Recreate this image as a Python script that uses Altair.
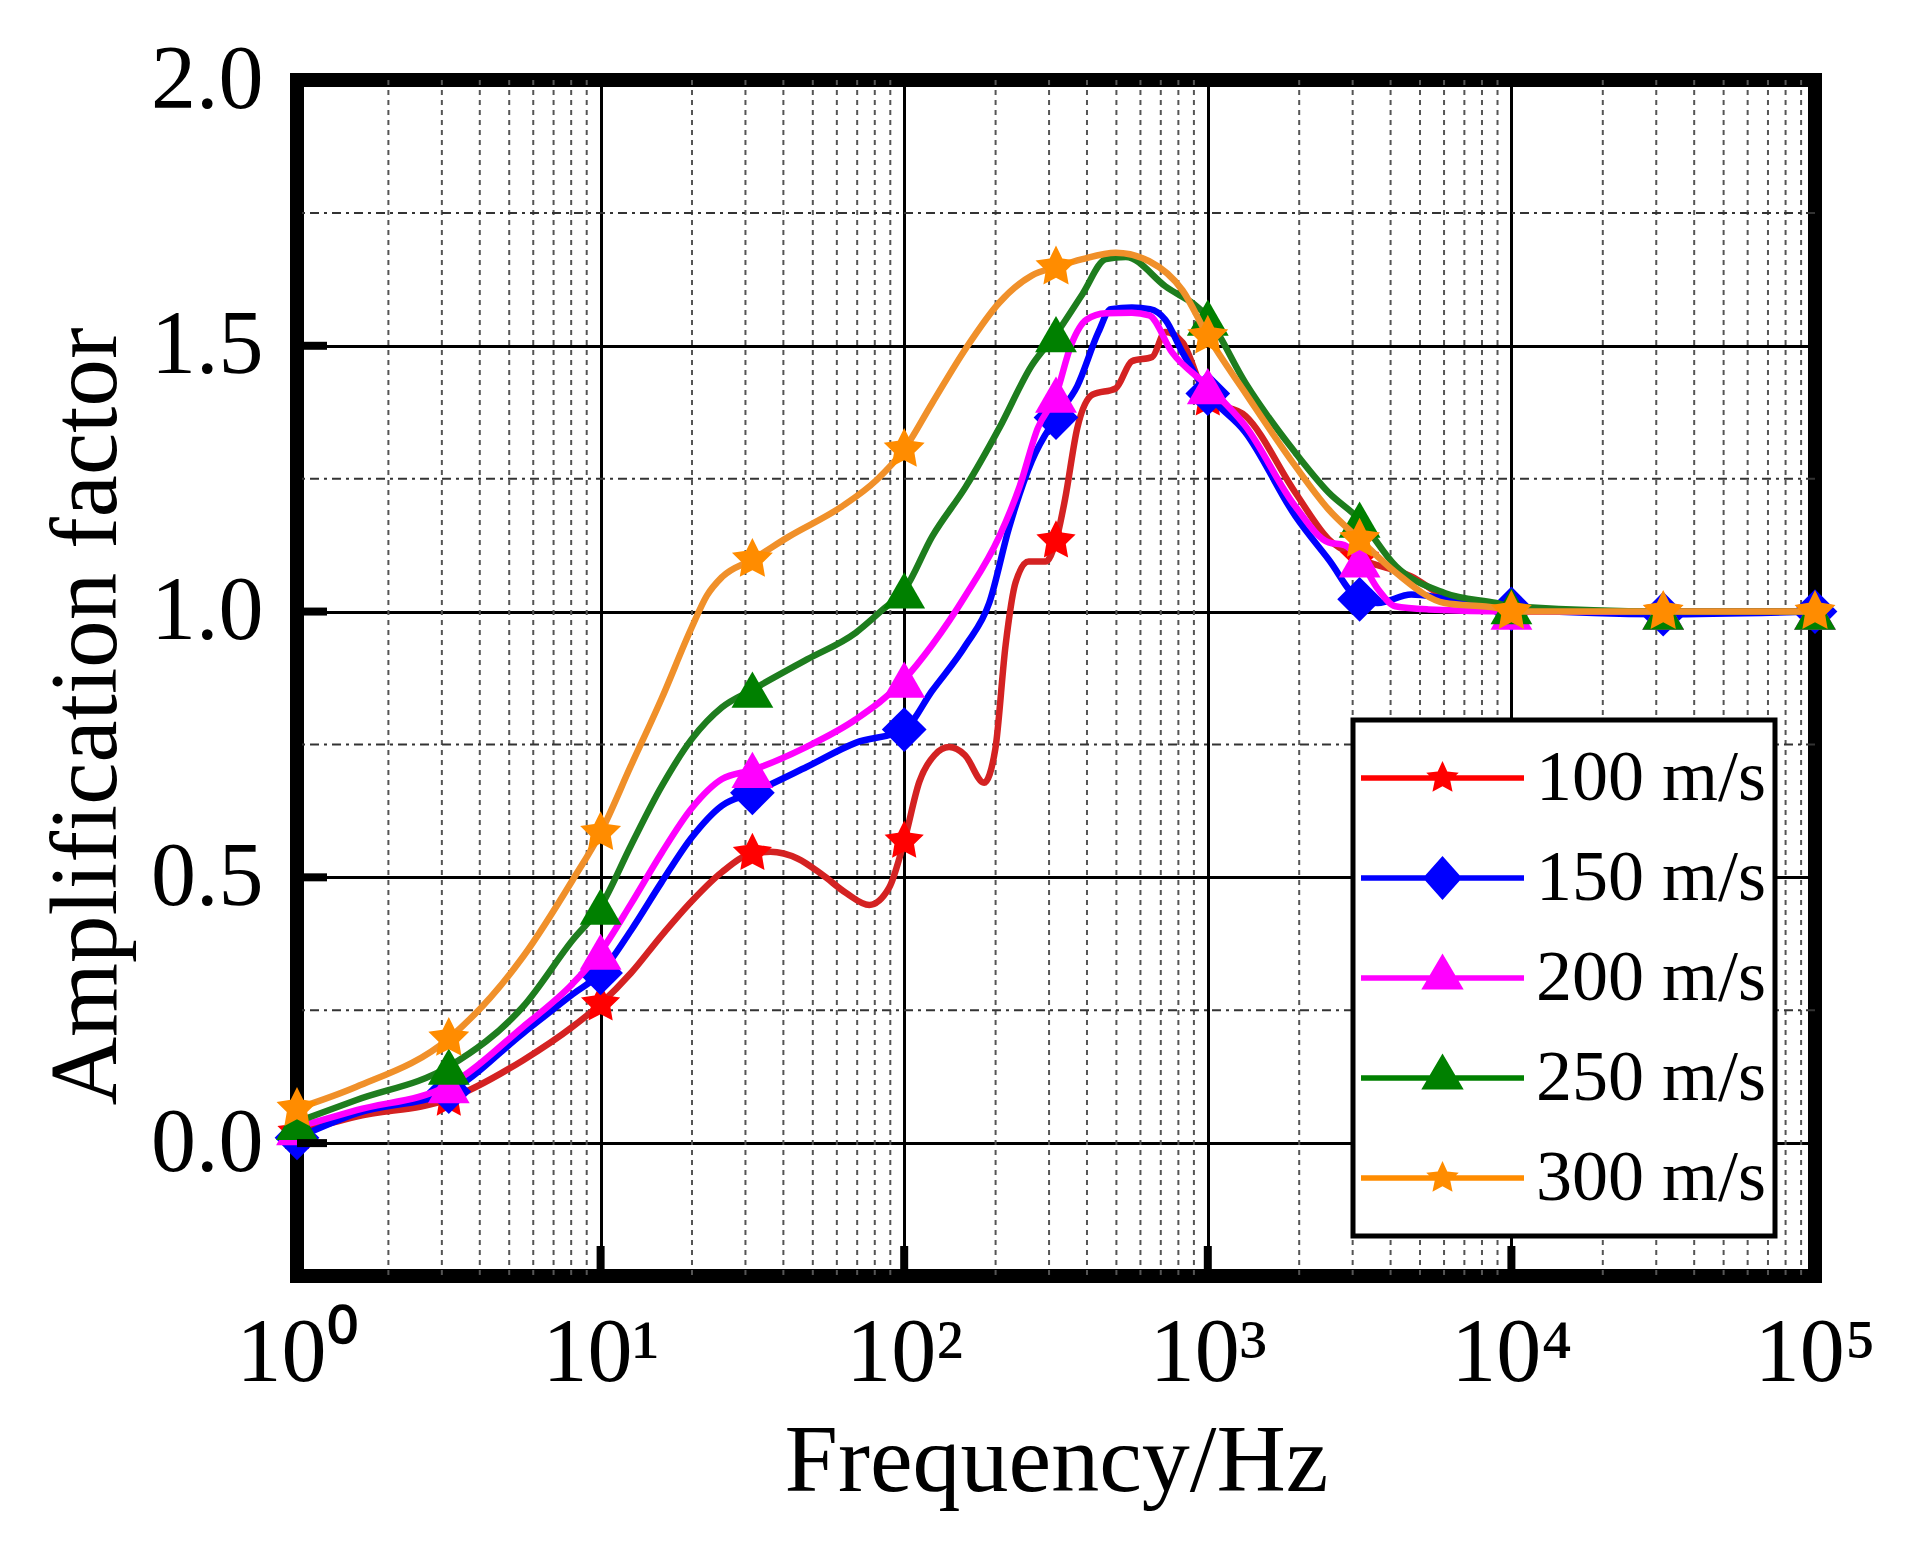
import math
import altair as alt
import pandas as pd

# ---------------- data ----------------
series = ["100 m/s", "150 m/s", "200 m/s", "250 m/s", "300 m/s"]

# curves: log10(frequency) and amplification factor
red_exp = [0, 0.196, 0.5, 0.745, 0.908, 1.0, 1.1, 1.2, 1.3, 1.4, 1.5, 1.56, 1.65, 1.73, 1.81, 1.885, 1.95, 2.0,
           2.05, 2.1, 2.148, 2.2, 2.263, 2.3, 2.334, 2.367, 2.41, 2.465, 2.5, 2.53, 2.57, 2.62, 2.697, 2.75, 2.817,
           2.86, 2.917, 3.0, 3.124, 3.288, 3.398, 3.5, 3.67, 3.78, 3.9, 4.0, 4.5, 5.0]
red_val = [0.02, 0.05, 0.083, 0.156, 0.219, 0.262, 0.32, 0.39, 0.455, 0.51, 0.545, 0.548, 0.535, 0.505, 0.47, 0.448,
           0.48, 0.568, 0.68, 0.73, 0.745, 0.73, 0.678, 0.741, 0.937, 1.055, 1.094, 1.094, 1.133, 1.212, 1.345, 1.408,
           1.42, 1.471, 1.479, 1.526, 1.506, 1.40, 1.368, 1.224, 1.136, 1.10, 1.066, 1.028, 1.009, 1.0, 1.0, 1.0]

blue_exp = [0, 0.196, 0.5, 0.745, 0.908, 1.0, 1.1, 1.2, 1.3, 1.4, 1.5, 1.68, 1.84, 2.0, 2.092, 2.203, 2.28, 2.345,
            2.42, 2.5, 2.57, 2.64, 2.68, 2.75, 2.81, 2.86, 2.917, 3.0, 3.124, 3.288, 3.398, 3.5, 3.56, 3.67, 3.78,
            3.9, 4.0, 4.5, 5.0]
blue_val = [0.01, 0.056, 0.097, 0.207, 0.28, 0.32, 0.40, 0.49, 0.575, 0.635, 0.659, 0.708, 0.753, 0.778, 0.851,
            0.937, 1.016, 1.157, 1.283, 1.365, 1.424, 1.526, 1.569, 1.572, 1.569, 1.549, 1.487, 1.41, 1.337, 1.18,
            1.098, 1.023, 1.016, 1.032, 1.025, 1.016, 1.005, 0.995, 1.0]

mag_exp = [0, 0.196, 0.5, 0.745, 0.908, 1.0, 1.1, 1.2, 1.3, 1.4, 1.5, 1.68, 1.84, 2.0, 2.092, 2.203, 2.313, 2.38,
           2.44, 2.5, 2.55, 2.6, 2.664, 2.75, 2.807, 2.883, 3.0, 3.124, 3.288, 3.398, 3.45, 3.5, 3.562, 3.617,
           3.727, 4.0, 4.5, 5.0]
mag_val = [0.03, 0.062, 0.109, 0.219, 0.30, 0.36, 0.45, 0.545, 0.63, 0.685, 0.702, 0.746, 0.797, 0.872, 0.937,
           1.031, 1.141, 1.235, 1.345, 1.408, 1.502, 1.549, 1.561, 1.562, 1.557, 1.487, 1.424, 1.349, 1.198, 1.13,
           1.125, 1.098, 1.041, 1.01, 1.004, 1.0, 1.0, 1.0]

green_exp = [0, 0.196, 0.5, 0.745, 0.908, 1.0, 1.1, 1.2, 1.3, 1.4, 1.5, 1.68, 1.84, 1.93, 2.0, 2.092, 2.203, 2.313,
             2.42, 2.5, 2.587, 2.664, 2.73, 2.86, 3.0, 3.124, 3.288, 3.398, 3.5, 3.62, 3.78, 3.95, 4.0, 4.5, 5.0]
green_val = [0.04, 0.081, 0.144, 0.257, 0.382, 0.445, 0.56, 0.67, 0.76, 0.82, 0.853, 0.91, 0.96, 1.004, 1.04, 1.141,
             1.235, 1.345, 1.463, 1.522, 1.597, 1.663, 1.667, 1.612, 1.553, 1.43, 1.299, 1.224, 1.173, 1.085, 1.035,
             1.016, 1.01, 1.0, 1.0]

orange_exp = [0, 0.196, 0.5, 0.745, 0.908, 1.0, 1.1, 1.2, 1.3, 1.35, 1.4, 1.5, 1.62, 1.79, 1.91, 2.0, 2.092, 2.203,
              2.313, 2.42, 2.5, 2.587, 2.697, 2.807, 2.917, 3.0, 3.124, 3.288, 3.398, 3.5, 3.62, 3.78, 3.95, 4.0,
              4.5, 5.0]
orange_val = [0.065, 0.106, 0.197, 0.351, 0.495, 0.584, 0.71, 0.835, 0.97, 1.03, 1.065, 1.098, 1.141, 1.196, 1.248,
              1.305, 1.392, 1.495, 1.581, 1.632, 1.648, 1.663, 1.675, 1.659, 1.604, 1.518, 1.411, 1.274, 1.192, 1.136,
              1.073, 1.016, 1.007, 1.0, 1.0, 1.0]

# markers (every half decade)
marker_exp = [0, 0.5, 1, 1.5, 2, 2.5, 3, 3.5, 4, 4.5, 5]
red_mk = [0.02, 0.083, 0.262, 0.545, 0.568, 1.133, 1.40, 1.10, 1.0, 1.0, 1.0]
blue_mk = [0.01, 0.097, 0.32, 0.659, 0.778, 1.365, 1.41, 1.023, 1.005, 0.995, 1.0]
mag_mk = [0.03, 0.109, 0.36, 0.702, 0.872, 1.408, 1.424, 1.098, 1.0, 1.0, 1.0]
green_mk = [0.04, 0.144, 0.445, 0.853, 1.04, 1.522, 1.553, 1.173, 1.01, 1.0, 1.0]
orange_mk = [0.065, 0.197, 0.584, 1.098, 1.305, 1.648, 1.518, 1.136, 1.0, 1.0, 1.0]

# axis values
x_major = [1, 10, 100, 1000, 10000, 100000]
x_minor_mult = [2, 3, 4, 5, 6, 7, 8, 9]
y_major = [0.0, 0.5, 1.0, 1.5, 2.0]
y_minor = [0.25, 0.75, 1.25, 1.75]

line_colors = ["#d42222", "#0000ff", "#ff00ff", "#1e7d1e", "#f0902a"]
marker_colors = ["#ff0000", "#0000ff", "#ff00ff", "#008000", "#ff8c00"]

# ---------------- tables ----------------
curves = [(red_exp, red_val), (blue_exp, blue_val), (mag_exp, mag_val), (green_exp, green_val),
          (orange_exp, orange_val)]
line_rows = []
for name, (ex, va) in zip(series, curves):
    for e, v in zip(ex, va):
        line_rows.append({"series": name, "f": 10 ** e, "a": v})
line_df = pd.DataFrame(line_rows)

marks = [red_mk, blue_mk, mag_mk, green_mk, orange_mk]
mk_rows = []
for name, va in zip(series, marks):
    for e, v in zip(marker_exp, va):
        mk_rows.append({"series": name, "f": 10 ** e, "a": v})
mk_df = pd.DataFrame(mk_rows)

minor_x_df = pd.DataFrame({"f": [m * d for d in x_major[:-1] for m in x_minor_mult]})
minor_y_df = pd.DataFrame({"a": y_minor})
ytick_df = pd.DataFrame({"a": y_major})
xtick_df = pd.DataFrame({"f": x_major[1:-1]})

# ---------------- styling ----------------
FONT = "Liberation Serif"
W, H = 1518, 1196

x_scale = alt.Scale(type="log", domain=[1, 100000], nice=False)
y_scale = alt.Scale(domain=[-0.25, 2.0], nice=False, zero=False)

x_axis = alt.Axis(
    values=x_major,
    labelExpr="'10' + ['\u2070','\u00b9','\u00b2','\u00b3','\u2074','\u2075'][round(log(datum.value)/LN10)]",
    labelFont=FONT, labelFontSize=90, labelColor="black", labelPadding=33, labelFlush=False,
    labelOverlap=False, labelBaseline="top",
    domain=False, ticks=False, grid=True, gridColor="#000000", gridWidth=3,
    title="Frequency/Hz", titleFont=FONT, titleFontSize=96, titleFontWeight="normal", titleColor="black",
    titleY=214, titleBaseline="alphabetic",
)
y_axis = alt.Axis(
    values=y_major, format=".1f",
    labelFont=FONT, labelFontSize=90, labelColor="black", labelPadding=34, labelFlush=False,
    labelOverlap=False,
    domain=False, ticks=False, grid=True, gridColor="#000000", gridWidth=3,
    title="Amplification factor", titleFont=FONT, titleFontSize=95, titleFontWeight="normal",
    titleColor="black", titleAngle=270, titleX=-182, titleY=636, titleBaseline="alphabetic",
)

xenc = alt.X("f:Q", scale=x_scale, axis=x_axis)
yenc = alt.Y("a:Q", scale=y_scale, axis=y_axis)


def star_path(R, r):
    pts = []
    for k in range(10):
        ang = math.radians(-90 + 36 * k)
        rad = R if k % 2 == 0 else r
        pts.append((rad * math.cos(ang), rad * math.sin(ang)))
    return "M" + "L".join(f"{x:.4f},{y:.4f}" for x, y in pts) + "Z"


bar = "M-1,-0.034L1,-0.034L1,0.034L-1,0.034Z"
leg_star = bar + star_path(0.21, 0.1)
leg_diamond = bar + "M-0.24,0L0,-0.27L0.24,0L0,0.27Z"
leg_tri = bar + "M0,-0.3L0.26,0.14L-0.26,0.14Z"
legend_shapes = [leg_star, leg_diamond, leg_tri, leg_tri, leg_star]
marker_star = star_path(1.0, 0.5)

marker_shapes = [marker_star, "diamond", "triangle-up", "triangle-up", marker_star]
marker_sizes = [1700, 2000, 1750, 1750, 1850]

color_scale = alt.Scale(domain=series, range=marker_colors)
stroke_scale = alt.Scale(domain=series, range=line_colors)

legend_def = alt.Legend(
    orient="none", legendX=1056, legendY=640, title=None,
    symbolSize=163 * 163, clipHeight=100, rowPadding=0, symbolStrokeWidth=0, symbolOpacity=1,
    labelFont=FONT, labelFontSize=72, labelColor="black", labelOffset=12, labelLimit=500,
    padding=8, strokeColor="black", fillColor="white",
)

legend_layer = alt.Chart(mk_df).transform_filter("false").mark_point(filled=True, opacity=1).encode(
    x=xenc, y=yenc,
    color=alt.Color("series:N", scale=color_scale, legend=legend_def),
    shape=alt.Shape("series:N", scale=alt.Scale(domain=series, range=legend_shapes), legend=legend_def),
)

minor_x = alt.Chart(minor_x_df).mark_rule(color="#555555", strokeWidth=2, strokeDash=[5, 5]).encode(x=xenc)
minor_y = alt.Chart(minor_y_df).mark_rule(color="#333333", strokeWidth=2, strokeDash=[9, 5, 3, 5]).encode(y=yenc)

series_layers = []
for name, shp, sz in zip(series, marker_shapes, marker_sizes):
    ln = alt.Chart(line_df).transform_filter(alt.FieldEqualPredicate(field="series", equal=name)).mark_line(
        interpolate="monotone", strokeWidth=6.5
    ).encode(
        x=xenc, y=yenc,
        stroke=alt.Stroke("series:N", scale=stroke_scale, legend=None),
    )
    pt = alt.Chart(mk_df).transform_filter(alt.FieldEqualPredicate(field="series", equal=name)).mark_point(
        filled=True, opacity=1, shape=shp, size=sz, strokeWidth=0
    ).encode(
        x=xenc, y=yenc,
        color=alt.Color("series:N", scale=color_scale, legend=None),
    )
    series_layers += [ln, pt]

yticks = alt.Chart(ytick_df).mark_tick(orient="horizontal", thickness=8, size=30, color="black", opacity=1).encode(
    y=yenc, x=alt.value(15)
)
xticks = alt.Chart(xtick_df).mark_tick(orient="vertical", thickness=8, size=30, color="black", opacity=1).encode(
    x=xenc, y=alt.value(H - 15)
)

chart = alt.layer(
    legend_layer, minor_x, minor_y, *series_layers, yticks, xticks
).properties(
    width=W, height=H,
    autosize=alt.AutoSizeParams(type="none"),
    padding={"left": 289, "top": 72, "right": 100, "bottom": 262},
    background="white",
).configure_view(
    stroke="black", strokeWidth=14
).configure_legend(
    strokeWidth=5
)

chart.save("out.html", embed_options={"renderer": "svg", "actions": False})
